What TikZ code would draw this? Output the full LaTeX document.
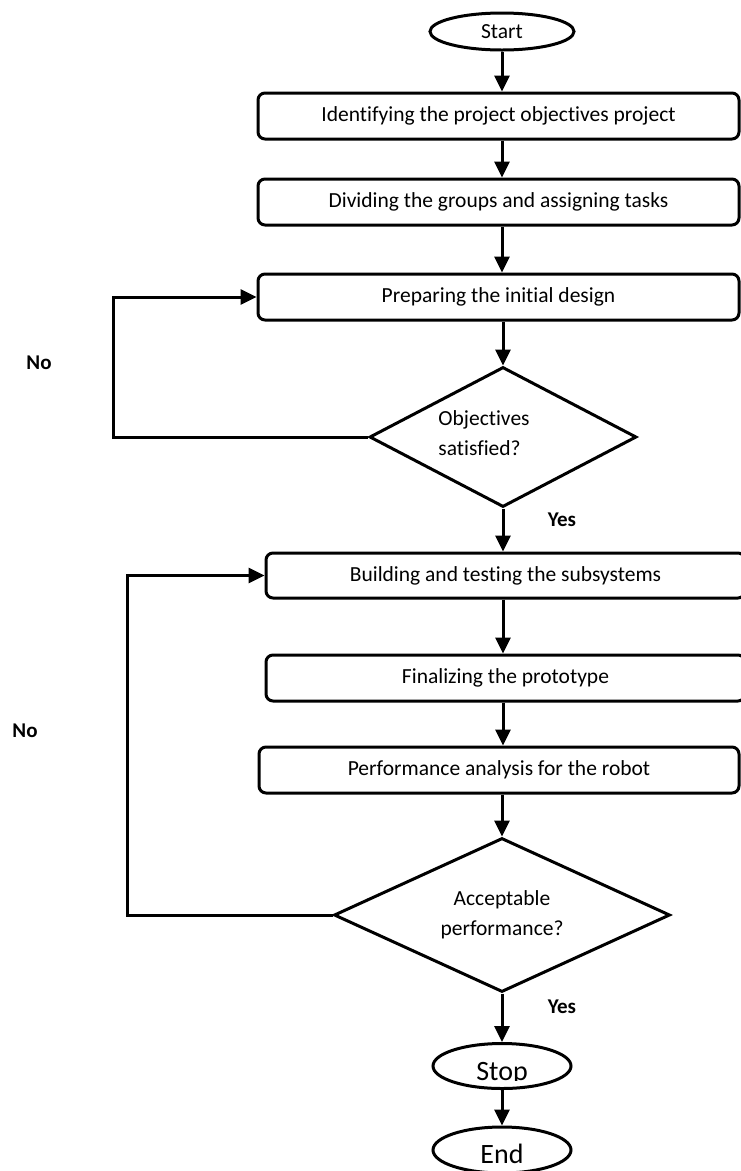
\documentclass[tikz,border=0pt]{standalone}
\usepackage{fontspec}
\setmainfont{Carlito}[Ligatures=CommonOff]
\usetikzlibrary{shapes.geometric,arrows.meta}

\tikzset{
  stepbox/.style={draw,line width=3pt,rounded corners=7pt,minimum height=46pt,inner sep=0pt},
  decision/.style={diamond,draw,line width=3pt,inner sep=0pt,aspect=2,align=center},
  terminal/.style={ellipse,draw,line width=3pt,inner sep=0pt},
  flow/.style={line width=3pt,-{Triangle[length=16pt,width=15pt]}},
  answer/.style={font=\fontsize{21}{25}\selectfont\bfseries}
}

\begin{document}
\begin{tikzpicture}[x=1pt,y=-1pt,font=\fontsize{21.5}{30}\selectfont]
 \useasboundingbox (0,0) rectangle (741,1171);
 \clip (0,0) rectangle (741,1171);
 % terminals and steps
 \node (start) [terminal,minimum width=144pt,minimum height=37pt] at (502,31.5) {Start};
 \node (box1) [stepbox,minimum width=481pt] at (498.5,116) {Identifying the project objectives project};
 \node (box2) [stepbox,minimum width=481pt] at (498.5,202) {Dividing the groups and assigning tasks};
 \node (box3) [stepbox,minimum width=481pt] at (498.5,297) {Preparing the initial design};
 \node (dia1) [decision,minimum width=267pt,minimum height=140pt,
   label={[align=left,xshift=-19pt,yshift=4pt]center:Objectives\\satisfied?}] at (503,437) {};
 \node (box4) [stepbox,minimum width=479pt,minimum height=45pt] at (505.5,575.5) {Building and testing the subsystems};
 \node (box5) [stepbox,minimum width=479pt] at (505.5,678) {Finalizing the prototype};
 \node (box6) [stepbox,minimum width=480pt] at (499,770) {Performance analysis for the robot};
 \node (dia2) [decision,minimum width=336pt,minimum height=154pt] at (502,915) {Acceptable\\performance?};
 \node (stop) [terminal,minimum width=138pt,minimum height=45pt,path picture={
   \clip ([yshift=-14pt]path picture bounding box.west) rectangle (path picture bounding box.north east);
   \node[anchor=base,font=\fontsize{28}{30}\selectfont] at ([yshift=-14pt]path picture bounding box.center) {Stop};
   }] at (502,1066) {};
 \node (end) [terminal,minimum width=138pt,minimum height=46pt,path picture={
   \node[anchor=base,font=\fontsize{28}{30}\selectfont] at ([yshift=-13pt]path picture bounding box.center) {End};
   }] at (502,1150) {};
 % answers
 \node (yes1) [answer] at (562,520) {Yes};
 \node (yes2) [answer] at (562,1007) {Yes};
 \node (no1) [answer] at (39,363) {No};
 \node (no2) [answer] at (25,731) {No};
 % connectors
 \draw[flow] (start) -- (start |- box1.north);
 \draw[flow] (box1.south -| start) -- (box2.north -| start);
 \draw[flow] (box2.south -| start) -- (box3.north -| start);
 \draw[flow] (box3.south -| dia1) -- (dia1);
 \draw[flow] (dia1) -- (dia1 |- box4.north);
 \draw[flow] (box4.south -| dia1) -- (box5.north -| dia1);
 \draw[flow] (box5.south -| dia1) -- (box6.north -| dia1);
 \draw[flow] (box6.south -| dia2) -- (dia2);
 \draw[flow] (dia2) -- (stop);
 \draw[flow] (stop) -- (end);
 \draw[flow] (dia1.west) -- ++(-255,0) |- (box3.west);
 \draw[flow] (dia2.west) -- ++(-205,0) |- (box4.west);
\end{tikzpicture}
\end{document}
